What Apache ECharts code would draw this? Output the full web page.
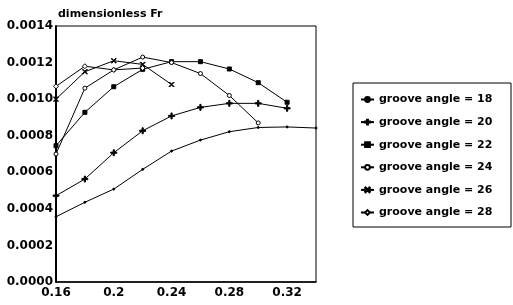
<!DOCTYPE html>
<html>
<head>
<meta charset="utf-8">
<script src="https://cdn.jsdelivr.net/npm/echarts@6/dist/echarts.min.js"></script>
<style>
html, body { margin: 0; padding: 0; background: #fff; }
#chart { width: 513px; height: 305px; }
</style>
</head>
<body>
<div id="chart"></div>
<script>
// x 取值 (Fr 横轴)
const xs = [0.16, 0.18, 0.2, 0.22, 0.24, 0.26, 0.28, 0.30, 0.32, 0.34]
const angle18 = [0.000357, 0.000436, 0.000508, 0.000616, 0.000716, 0.000776, 0.000822, 0.000845, 0.000848, 0.000842]
const angle20 = [0.000472, 0.000563, 0.000707, 0.000827, 0.000908, 0.000955, 0.000977, 0.000977, 0.00095]
const angle22 = [0.000745, 0.000928, 0.001068, 0.001163, 0.001205, 0.001205, 0.001165, 0.00109, 0.000983]
const angle24 = [0.0007, 0.00106, 0.00116, 0.00123, 0.0012, 0.00114, 0.00102, 0.00087]
const angle26 = [0.001, 0.00115, 0.00121, 0.00119, 0.00108]
const angle28 = [0.00107, 0.00118, 0.00116, 0.00117]
const names = ['groove angle = 18', 'groove angle = 20', 'groove angle = 22', 'groove angle = 24', 'groove angle = 26', 'groove angle = 28']

const plus = 'path://M4,0 L6,0 L6,4 L10,4 L10,6 L6,6 L6,10 L4,10 L4,6 L0,6 L0,4 L4,4 Z'
const cross = 'path://M1,0 L5,4 L9,0 L10,1 L6,5 L10,9 L9,10 L5,6 L1,10 L0,9 L4,5 L0,1 Z'
const font = 'DejaVu Sans'

const toPairs = (vals) => vals.map((v, i) => [xs[i], v])

const mkSeries = (name, vals, symbol, size, fill) => ({
	name: name,
	type: 'line',
	data: toPairs(vals),
	symbol: symbol,
	symbolSize: size,
	showAllSymbol: true,
	lineStyle: { color: '#000', width: 1 },
	itemStyle: { color: fill, borderColor: '#000', borderWidth: 1 },
	emphasis: { disabled: true },
	animation: false
})

const chart = echarts.init(document.getElementById('chart'))
chart.setOption({
	backgroundColor: '#fff',
	textStyle: { fontFamily: font },
	title: {
		text: 'dimensionless Fr',
		left: 53,
		top: 4,
		textStyle: { fontSize: 11, fontWeight: 'bold', color: '#000', fontFamily: font }
	},
	grid: {
		left: 56, right: 197, top: 26, bottom: 23,
		show: true,
		borderColor: '#000',
		borderWidth: 1
	},
	xAxis: {
		type: 'value',
		min: 0.16,
		max: 0.34,
		interval: 0.04,
		axisLine: { show: true, lineStyle: { color: '#000', width: 1.5 } },
		axisTick: { show: false },
		splitLine: { show: false },
		axisLabel: {
			showMaxLabel: false,
			color: '#000',
			fontSize: 12,
			fontWeight: 'bold',
			margin: 5,
			fontFamily: font,
			formatter: (v) => String(+v.toFixed(2))
		}
	},
	yAxis: {
		type: 'value',
		min: 0,
		max: 0.0014,
		interval: 0.0002,
		axisLine: { show: true, lineStyle: { color: '#000', width: 2 } },
		axisTick: { show: false },
		splitLine: { show: false },
		axisLabel: {
			color: '#000',
			fontSize: 12,
			fontWeight: 'bold',
			margin: 3,
			fontFamily: font,
			formatter: (v) => v.toFixed(4)
		}
	},
	legend: {
		orient: 'vertical',
		left: 360,
		top: 94,
		itemWidth: 13,
		itemHeight: 6,
		itemGap: 11.6,
		padding: 0,
		data: names,
		textStyle: { fontSize: 11, fontWeight: 'bold', color: '#000', fontFamily: font }
	},
	graphic: [{
		type: 'rect',
		shape: { x: 353, y: 83, width: 158, height: 144 },
		style: { fill: 'none', stroke: '#000', lineWidth: 1 }
	}],
	series: [
		mkSeries(names[0], angle18, 'circle', 2, '#000'),
		mkSeries(names[1], angle20, plus, 6, '#000'),
		mkSeries(names[2], angle22, 'rect', 4, '#000'),
		mkSeries(names[3], angle24, 'circle', 4, '#fff'),
		mkSeries(names[4], angle26, cross, 5, '#000'),
		mkSeries(names[5], angle28, 'diamond', 5, '#fff')
	]
})
</script>
</body>
</html>
